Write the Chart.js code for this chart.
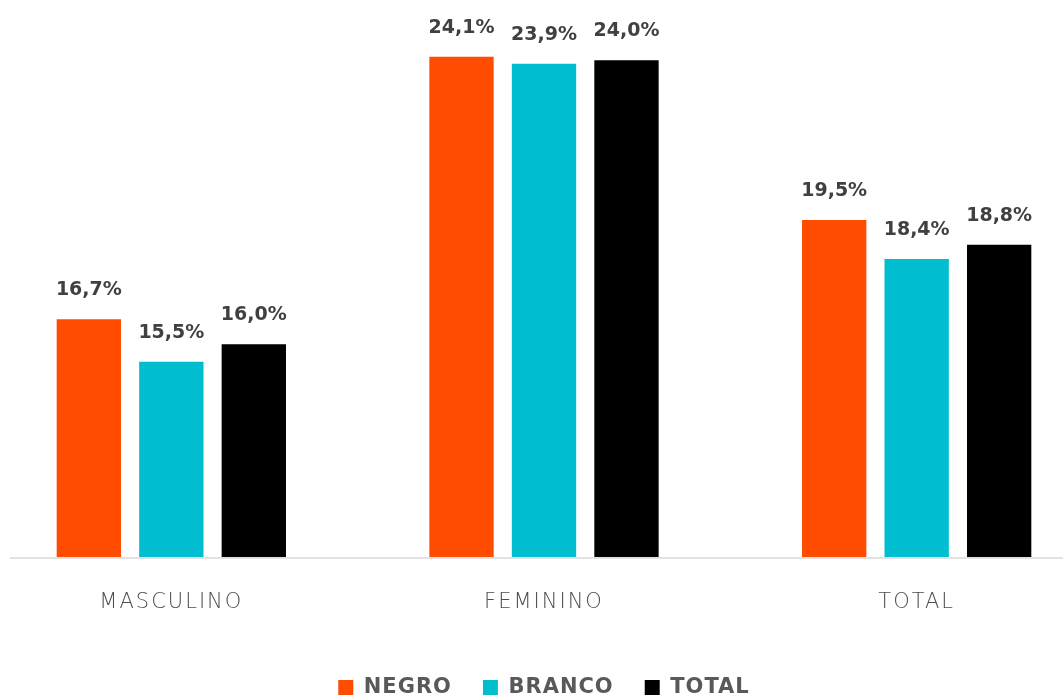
<!DOCTYPE html>
<html><head><meta charset="utf-8">
<script src="https://cdn.jsdelivr.net/npm/chart.js@4.4.0/dist/chart.umd.min.js"></script>
<style>
html,body{margin:0;padding:0;background:#fff;overflow:hidden;width:1063px;height:698px;}
#wrap{position:absolute;left:-15px;top:0;width:1118px;height:698px;}
</style></head><body>
<div id="wrap"><canvas id="c"></canvas></div>
<script>
const categories = ['MASCULINO', 'FEMININO', 'TOTAL'];
const seriesNames = ['NEGRO', 'BRANCO', 'TOTAL'];
const negro = [16.7, 24.1, 19.5];
const branco = [15.5, 23.9, 18.4];
const total = [16.0, 24.0, 18.8];
const seriesColors = ['#FF4C00', '#00BED0', '#000000'];
const yMin = 10, yMax = 25.7;

const fmt = v => v.toFixed(1).replace('.', ',') + '%';

const AXIS_SPACING = '2px', LEGEND_SPACING = '1px';
const spacingPlugin = {
  id: 'spacing',
  beforeLayout(chart) {
    chart.ctx.letterSpacing = AXIS_SPACING;
    const lg = chart.legend;
    if (lg && !lg._wrappedSpacing) {
      lg._wrappedSpacing = true;
      const origFit = lg.fit.bind(lg), origDraw = lg.draw.bind(lg);
      lg.fit = function () { const c = chart.ctx; c.letterSpacing = LEGEND_SPACING; origFit(); c.letterSpacing = AXIS_SPACING; };
      lg.draw = function (a) { const c = chart.ctx; c.letterSpacing = LEGEND_SPACING; origDraw(a); c.letterSpacing = AXIS_SPACING; };
    }
  },
  beforeDraw(chart) { chart.ctx.letterSpacing = AXIS_SPACING; }
};
const baselinePlugin = {
  id: 'baseline',
  beforeDatasetsDraw(chart) {
    const { ctx, chartArea } = chart;
    ctx.save();
    ctx.strokeStyle = '#d9d9d9';
    ctx.lineWidth = 1.5;
    ctx.beginPath();
    ctx.moveTo(25, chartArea.bottom + 1);
    ctx.lineTo(chart.width, chartArea.bottom + 1);
    ctx.stroke();
    ctx.restore();
  }
};
const labelPlugin = {
  id: 'vlabels',
  afterDatasetsDraw(chart) {
    const ctx = chart.ctx;
    ctx.save();
    ctx.letterSpacing = '0px';
    ctx.font = 'bold 19px "DejaVu Sans"';
    ctx.fillStyle = '#404040';
    ctx.textAlign = 'center';
    ctx.textBaseline = 'alphabetic';
    chart.data.datasets.forEach((ds, i) => {
      chart.getDatasetMeta(i).data.forEach((bar, j) => {
        ctx.fillText(fmt(ds.data[j]), bar.x, bar.y - 24);
      });
    });
    ctx.restore();
  }
};

new Chart(document.getElementById('c'), {
  type: 'bar',
  data: {
    labels: categories,
    datasets: [negro, branco, total].map((d, i) => ({
      label: seriesNames[i],
      data: d,
      backgroundColor: seriesColors[i],
      borderWidth: 0,
      categoryPercentage: 0.664,
      barPercentage: 0.78
    }))
  },
  options: {
    responsive: true,
    maintainAspectRatio: false,
    animation: false,
    devicePixelRatio: 1,
    layout: { padding: { top: 0, left: 0, right: 0, bottom: -10 } },
    plugins: {
      tooltip: { enabled: false },
      legend: {
        position: 'bottom',
        labels: {
          boxWidth: 15, boxHeight: 15, padding: 31,
          color: '#595959',
          font: { family: '"DejaVu Sans"', size: 21, weight: 'bold' }
        }
      }
    },
    scales: {
      x: {
        type: 'category',
        offset: true,
        grid: { display: false, drawTicks: false },
        border: { display: false },
        ticks: {
          color: '#4d4d4d', padding: 33,
          font: { family: '"DejaVu Sans"', size: 21, weight: 200 }
        },
        afterFit: s => { s.height = 89; }
      },
      y: { display: false, min: yMin, max: yMax }
    }
  },
  plugins: [spacingPlugin, baselinePlugin, labelPlugin]
});
</script>
</body></html>
